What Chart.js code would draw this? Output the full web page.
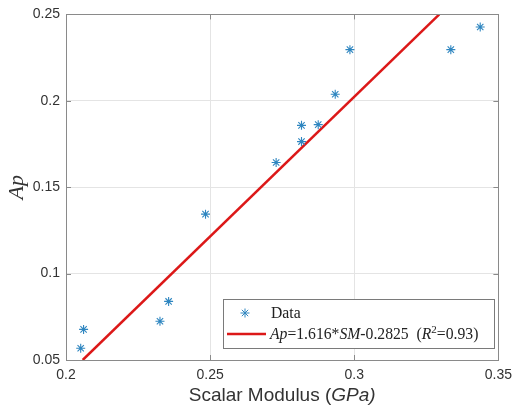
<!DOCTYPE html>
<html>
<head>
<meta charset="utf-8">
<style>
html,body{margin:0;padding:0;background:#fff;}
#wrap{width:519px;height:412px;position:relative;}
</style>
<script src="https://cdn.jsdelivr.net/npm/chart.js@4/dist/chart.umd.min.js"></script>
</head>
<body>
<div id="wrap"><canvas id="c" width="519" height="412"></canvas></div>
<script>
// ---- data ----
const smValues = [0.2051, 0.2061, 0.2326, 0.2356, 0.2484, 0.2729, 0.2817, 0.2817, 0.2875, 0.2934, 0.2985, 0.3335, 0.3437];
const apValues = [0.0568, 0.0677, 0.0724, 0.0839, 0.1344, 0.1643, 0.1764, 0.1858, 0.1862, 0.2038, 0.2296, 0.2296, 0.2427];
const fitX = [0.2058, 0.3295];
const fitY = [0.05, 0.25];
const xTicks = [0.2, 0.25, 0.3, 0.35];
const yTicks = [0.05, 0.1, 0.15, 0.2, 0.25];
const xTitleParts = [["Scalar Modulus (", false], ["GPa)", true]];
const yTitle = "Ap";
const legendData = "Data";
const legendFitParts = [["Ap", "i"], ["=1.616*", "n"], ["SM", "i"], ["-0.2825  (", "n"], ["R", "i"], ["2", "s"], ["=0.93)", "n"]];

const MARK = '#2f86c0';
const RED = '#dc1818';
const AXIS = '#8a8a8a';
const TXT = '#333333';

const overlay = {
  id: 'overlay',
  afterDraw(chart) {
    const ctx = chart.ctx;
    const a = chart.chartArea;
    const xs = chart.scales.x, ys = chart.scales.y;
    ctx.save();
    // box
    ctx.strokeStyle = AXIS;
    ctx.lineWidth = 1;
    ctx.strokeRect(Math.round(a.left) + 0.5, Math.round(a.top) + 0.5, Math.round(a.right - a.left), Math.round(a.bottom - a.top));
    // inward ticks
    const tl = 5;
    ctx.beginPath();
    xs.ticks.forEach(t => {
      const px = Math.round(xs.getPixelForValue(t.value)) + 0.5;
      ctx.moveTo(px, a.bottom); ctx.lineTo(px, a.bottom - tl);
      ctx.moveTo(px, a.top); ctx.lineTo(px, a.top + tl);
    });
    ys.ticks.forEach(t => {
      const py = Math.round(ys.getPixelForValue(t.value)) + 0.5;
      ctx.moveTo(a.left, py); ctx.lineTo(a.left + tl, py);
      ctx.moveTo(a.right, py); ctx.lineTo(a.right - tl, py);
    });
    ctx.stroke();

    // x title (mixed styles)
    ctx.fillStyle = TXT;
    ctx.textBaseline = 'middle';
    const fs = 19;
    let total = 0;
    xTitleParts.forEach(p => { ctx.font = (p[1] ? 'italic ' : '') + fs + 'px "Liberation Sans"'; total += ctx.measureText(p[0]).width; });
    let x0 = (a.left + a.right) / 2 - total / 2;
    xTitleParts.forEach(p => { ctx.font = (p[1] ? 'italic ' : '') + fs + 'px "Liberation Sans"'; ctx.fillText(p[0], x0, 396); x0 += ctx.measureText(p[0]).width; });

    // legend
    const lx = 223, ly = 299, lw = 271, lh = 49;
    ctx.fillStyle = '#ffffff';
    ctx.fillRect(lx, ly, lw, lh);
    ctx.strokeStyle = '#7a7a7a';
    ctx.strokeRect(lx + 0.5, ly + 0.5, lw, lh);
    // marker
    ctx.strokeStyle = MARK;
    ctx.lineWidth = 1;
    const mx = 245, my = 313, r = 4.5;
    ctx.beginPath();
    ctx.moveTo(mx - r, my); ctx.lineTo(mx + r, my);
    ctx.moveTo(mx, my - r); ctx.lineTo(mx, my + r);
    const d = r * 0.707;
    ctx.moveTo(mx - d, my - d); ctx.lineTo(mx + d, my + d);
    ctx.moveTo(mx - d, my + d); ctx.lineTo(mx + d, my - d);
    ctx.stroke();
    // line sample
    ctx.strokeStyle = RED;
    ctx.lineWidth = 2.5;
    ctx.beginPath();
    ctx.moveTo(227, 334); ctx.lineTo(266, 334);
    ctx.stroke();
    // texts
    ctx.fillStyle = '#222';
    const lf = 15.7;
    ctx.textBaseline = 'alphabetic';
    ctx.font = lf + 'px "Liberation Serif"';
    ctx.fillText(legendData, 271, 318);
    let tx = 270;
    const base = 339;
    legendFitParts.forEach(p => {
      let f, yy = base;
      if (p[1] === 'i') f = 'italic ' + lf + 'px "Liberation Serif"';
      else if (p[1] === 's') { f = Math.round(lf * 0.7) + 'px "Liberation Serif"'; yy = base - 6; }
      else f = lf + 'px "Liberation Serif"';
      ctx.font = f;
      ctx.fillText(p[0], tx, yy);
      tx += ctx.measureText(p[0]).width;
    });
    ctx.restore();
  }
};

const fmt = v => String(Number(v.toFixed(2)));

new Chart(document.getElementById('c'), {
  type: 'scatter',
  data: {
    datasets: [
      {
        label: legendData,
        data: smValues.map((v, i) => ({x: v, y: apValues[i]})),
        pointStyle: 'star',
        radius: 4.5,
        borderColor: MARK,
        backgroundColor: MARK,
        borderWidth: 1.1,
        showLine: false
      },
      {
        label: 'fit',
        type: 'line',
        data: fitX.map((v, i) => ({x: v, y: fitY[i]})),
        borderColor: RED,
        borderWidth: 2.5,
        pointRadius: 0,
        fill: false,
        showLine: true
      }
    ]
  },
  options: {
    responsive: false,
    animation: false,
    events: [],
    layout: {padding: {top: 14, right: 14, left: 0, bottom: 0}},
    plugins: {legend: {display: false}, tooltip: {enabled: false}},
    scales: {
      x: {
        type: 'linear',
        min: 0.2, max: 0.35,
        afterBuildTicks: s => { s.ticks = xTicks.map(v => ({value: v})); },
        afterFit: s => { s.height = 52; },
        grid: {color: '#e4e4e4', drawTicks: false},
        border: {color: AXIS},
        ticks: {callback: v => fmt(v), padding: 7, color: TXT, font: {family: 'Liberation Sans', size: 14}, maxRotation: 0}
      },
      y: {
        type: 'linear',
        min: 0.05, max: 0.25,
        afterBuildTicks: s => { s.ticks = yTicks.map(v => ({value: v})); },
        afterFit: s => { s.width = 66; },
        grid: {color: '#e4e4e4', drawTicks: false},
        border: {color: AXIS},
        title: {display: true, text: yTitle, color: TXT, padding: {top: 4, bottom: 4}, font: {family: 'Liberation Serif', style: 'italic', size: 22}},
        ticks: {callback: v => fmt(v), padding: 6, color: TXT, font: {family: 'Liberation Sans', size: 14}}
      }
    }
  },
  plugins: [overlay]
});
</script>
</body>
</html>
